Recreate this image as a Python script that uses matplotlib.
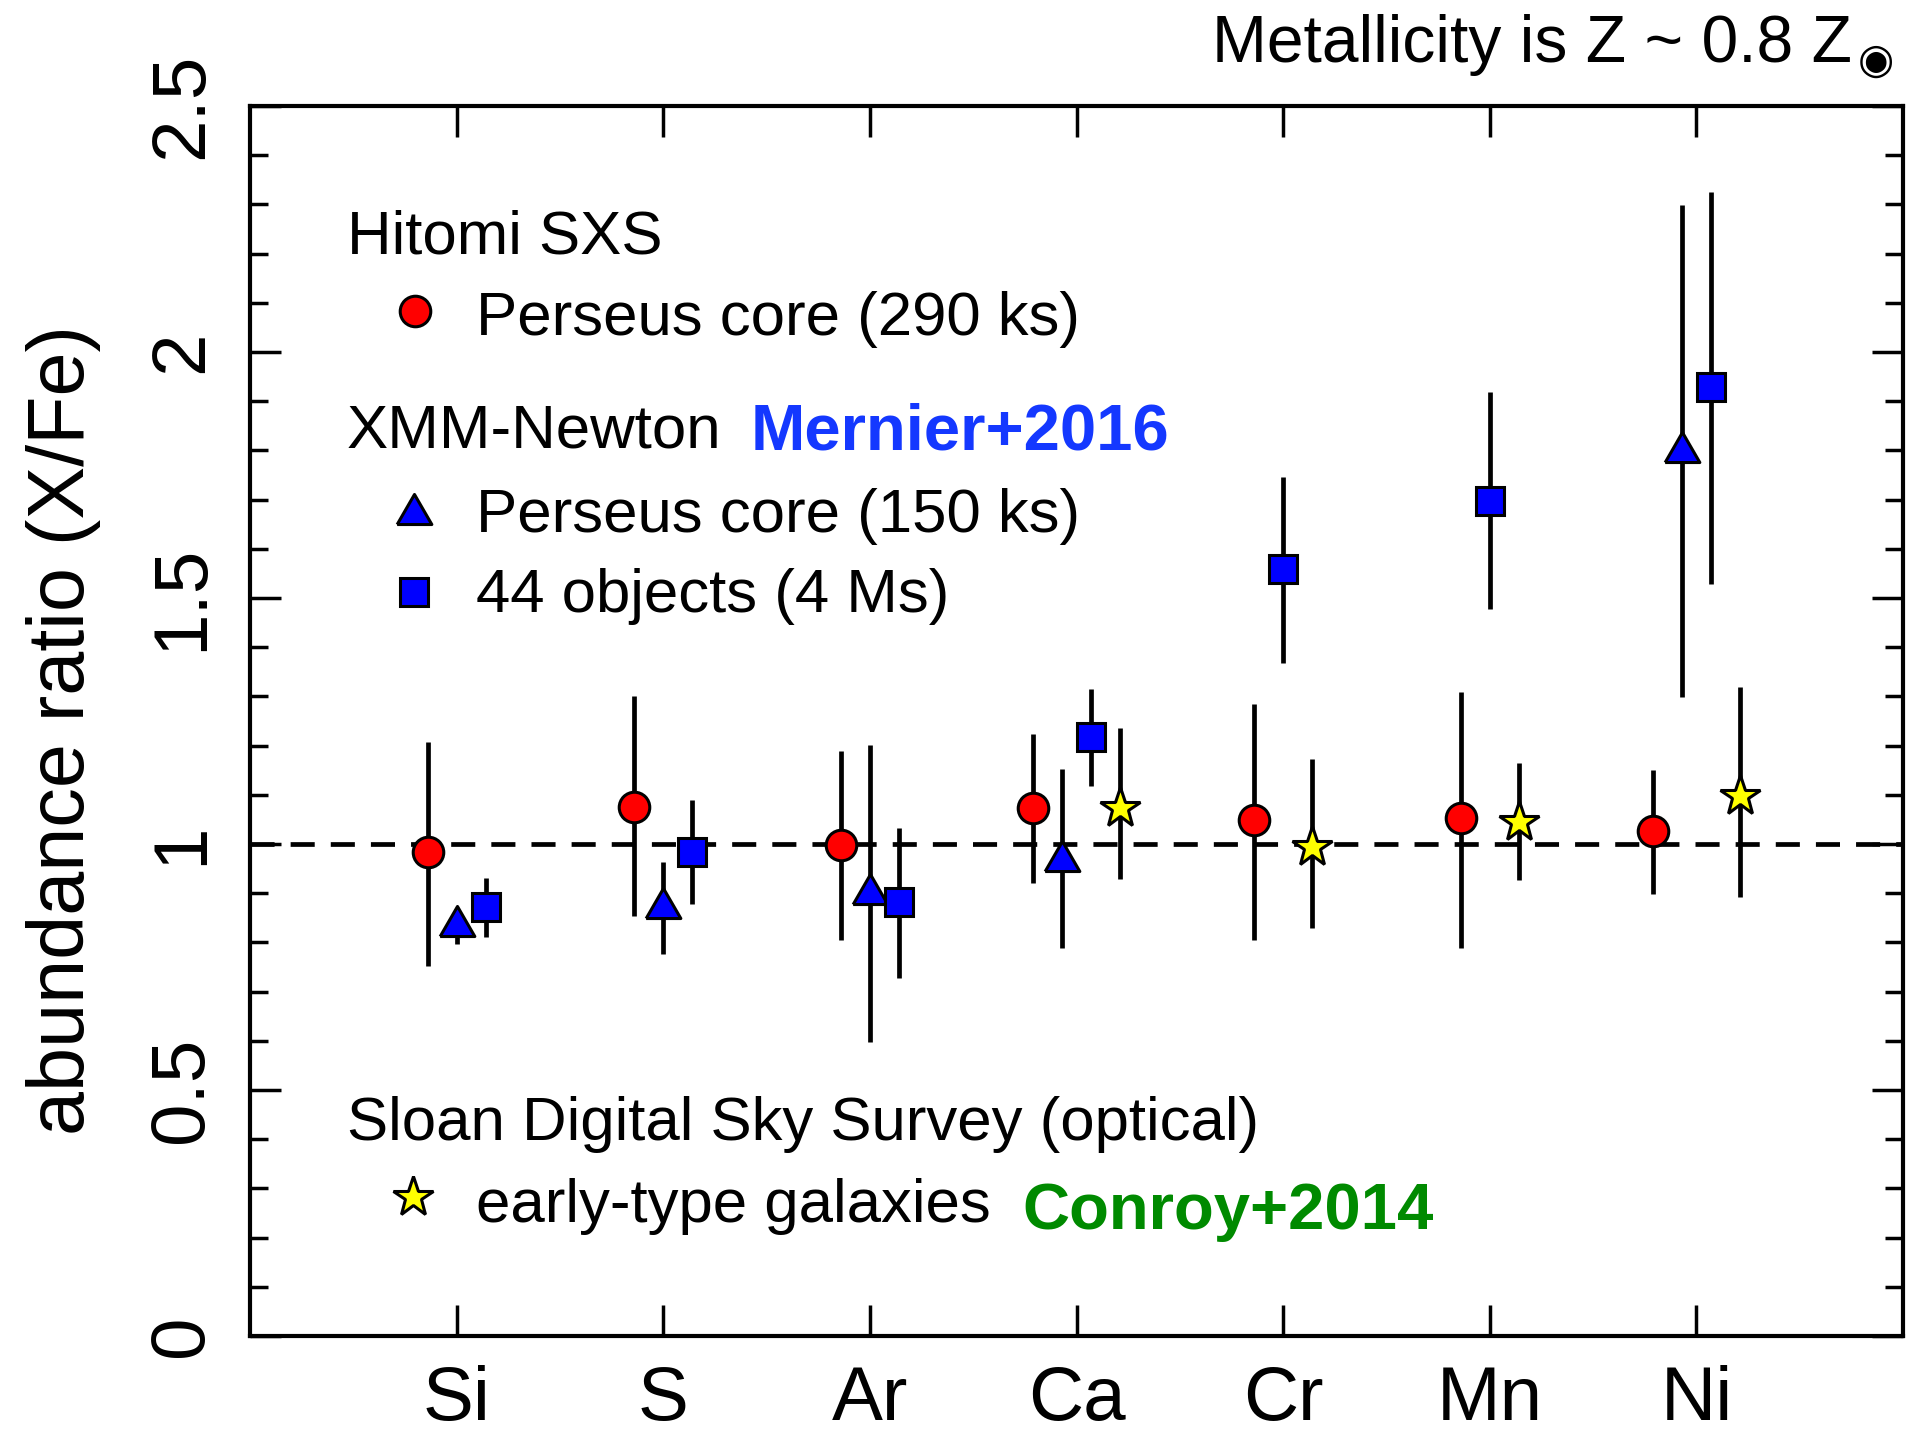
import numpy as np
import matplotlib
matplotlib.use("Agg")
import matplotlib.pyplot as plt
from matplotlib.ticker import MultipleLocator, FormatStrFormatter

plt.rcParams['font.family'] = ['Liberation Sans', 'DejaVu Sans']

# elements on the x axis
elements = ['Si', 'S', 'Ar', 'Ca', 'Cr', 'Mn', 'Ni']

# Hitomi SXS, Perseus core (290 ks) -- all elements
hitomi_el = ['Si', 'S', 'Ar', 'Ca', 'Cr', 'Mn', 'Ni']
hitomi_val = [0.983, 1.076, 0.997, 1.073, 1.048, 1.053, 1.026]
hitomi_hi = [1.208, 1.300, 1.190, 1.223, 1.284, 1.309, 1.151]
hitomi_lo = [0.753, 0.853, 0.805, 0.921, 0.805, 0.788, 0.898]

# XMM-Newton, Perseus core (150 ks)
xmm_per_el = ['Si', 'S', 'Ar', 'Ca', 'Ni']
xmm_per_val = [0.843, 0.881, 0.909, 0.976, 1.806]
xmm_per_hi = [0.870, 0.964, 1.202, 1.152, 2.298]
xmm_per_lo = [0.797, 0.777, 0.598, 0.788, 1.299]

# XMM-Newton, 44 objects (4 Ms)
xmm_44_el = ['Si', 'S', 'Ar', 'Ca', 'Cr', 'Mn', 'Ni']
xmm_44_val = [0.871, 0.984, 0.882, 1.218, 1.559, 1.698, 1.928]
xmm_44_hi = [0.931, 1.089, 1.032, 1.315, 1.747, 1.918, 2.326]
xmm_44_lo = [0.810, 0.878, 0.727, 1.118, 1.368, 1.478, 1.528]

# SDSS early-type galaxies (Conroy+2014)
sdss_el = ['Ca', 'Cr', 'Mn', 'Ni']
sdss_val = [1.074, 0.994, 1.045, 1.097]
sdss_hi = [1.236, 1.172, 1.164, 1.319]
sdss_lo = [0.929, 0.829, 0.927, 0.892]

# equilateral triangle marker
tri = [(-1, -0.866), (1, -0.866), (0, 0.866), (-1, -0.866)]

series = [
    (hitomi_el, hitomi_val, hitomi_lo, hitomi_hi, dict(marker='o', ms=22, mfc='red')),
    (xmm_per_el, xmm_per_val, xmm_per_lo, xmm_per_hi, dict(marker=tri, ms=25, mfc='blue')),
    (xmm_44_el, xmm_44_val, xmm_44_lo, xmm_44_hi, dict(marker='s', ms=20.5, mfc='blue')),
    (sdss_el, sdss_val, sdss_lo, sdss_hi, dict(marker='*', ms=30, mfc='yellow')),
]

# spread the points of each element side by side
step = 0.14
xpos = {s: {} for s in range(len(series))}
for i, el in enumerate(elements):
    present = [k for k, s in enumerate(series) if el in s[0]]
    n = len(present)
    for j, k in enumerate(present):
        xpos[k][el] = i + 1 + (j - (n - 1) / 2) * step

fig = plt.figure(figsize=(19.09, 14.41), dpi=100)
ax = fig.add_axes([0.131, 0.0729, 0.8659, 0.8535])

ax.axhline(1.0, color='black', lw=3.4, ls=(0, (5.1, 3.4)), zorder=1)

for k, (els, val, lo, hi, st) in enumerate(series):
    x = [xpos[k][e] for e in els]
    val = np.array(val)
    yerr = [val - np.array(lo), np.array(hi) - val]
    ax.errorbar(x, val, yerr=yerr, fmt='none', ecolor='black', elinewidth=3.4,
                capsize=0, zorder=2)
    ax.plot(x, val, ls='none', marker=st['marker'], ms=st['ms'],
            mfc=st['mfc'], mec='black', mew=2.2, zorder=3)

ax.set_xlim(0, 8)
ax.set_ylim(0, 2.5)
ax.set_xticks(range(1, len(elements) + 1))
ax.set_xticklabels(elements)
ax.yaxis.set_major_locator(MultipleLocator(0.5))
ax.yaxis.set_minor_locator(MultipleLocator(0.1))
ax.yaxis.set_major_formatter(FormatStrFormatter('%g'))

ax.tick_params(axis='both', which='both', direction='in', width=2.5)
ax.tick_params(axis='x', which='major', length=22, top=True, bottom=True,
               labelsize=55, pad=21)
ax.tick_params(axis='x', which='minor', bottom=False, top=False)
ax.tick_params(axis='y', which='major', length=22, left=True, right=True,
               labelsize=55, pad=23)
ax.tick_params(axis='y', which='minor', length=13, left=True, right=True)
for lab in ax.get_yticklabels():
    lab.set_rotation(90)
    lab.set_va('center')
for sp in ax.spines.values():
    sp.set_linewidth(3)

ax.set_ylabel('abundance ratio (X/Fe)', fontsize=57)
ax.yaxis.set_label_coords(-0.0901, 0.4927)

# legend block
fs = 44.5
tr = ax.transAxes
ax.text(0.0585, 0.8805, 'Hitomi SXS', fontsize=fs, transform=tr, va='baseline')
ax.plot([0.0998], [0.8333], marker='o', ms=22, mfc='red', mec='black', mew=2.2,
        transform=tr, clip_on=False)
ax.text(0.1368, 0.8138, 'Perseus core (290 ks)', fontsize=fs, transform=tr, va='baseline')

ax.text(0.0585, 0.7220, 'XMM-Newton', fontsize=fs, transform=tr, va='baseline')
ax.text(0.3030, 0.7205, 'Mernier+2016', fontsize=47, fontweight='bold',
        color='#1438ff', transform=tr, va='baseline')
ax.plot([0.0989], [0.6724], marker=tri, ms=25, mfc='blue', mec='black', mew=2.2,
        transform=tr, clip_on=False)
ax.text(0.1368, 0.6537, 'Perseus core (150 ks)', fontsize=fs, transform=tr, va='baseline')
ax.plot([0.0992], [0.6052], marker='s', ms=20.5, mfc='blue', mec='black', mew=2.2,
        transform=tr, clip_on=False)
ax.text(0.1368, 0.5890, '44 objects (4 Ms)', fontsize=fs, transform=tr, va='baseline')

ax.text(0.0585, 0.1593, 'Sloan Digital Sky Survey (optical)', fontsize=fs,
        transform=tr, va='baseline')
ax.plot([0.0986], [0.1130], marker='*', ms=30, mfc='yellow', mec='black', mew=2.2,
        transform=tr, clip_on=False)
ax.text(0.1368, 0.0927, 'early-type galaxies', fontsize=fs, transform=tr, va='baseline')
ax.text(0.4670, 0.0870, 'Conroy+2014', fontsize=47, fontweight='bold',
        color='#008a00', transform=tr, va='baseline')

# metallicity note above the frame
fig.text(0.9700, 0.957, 'Metallicity is Z ~ 0.8 Z', fontsize=47.5, ha='right', va='baseline')
fig.text(0.9829, 0.9577, '\u25c9', fontsize=30, family='DejaVu Sans', ha='center', va='center')

fig.savefig('out.png', dpi=100)
